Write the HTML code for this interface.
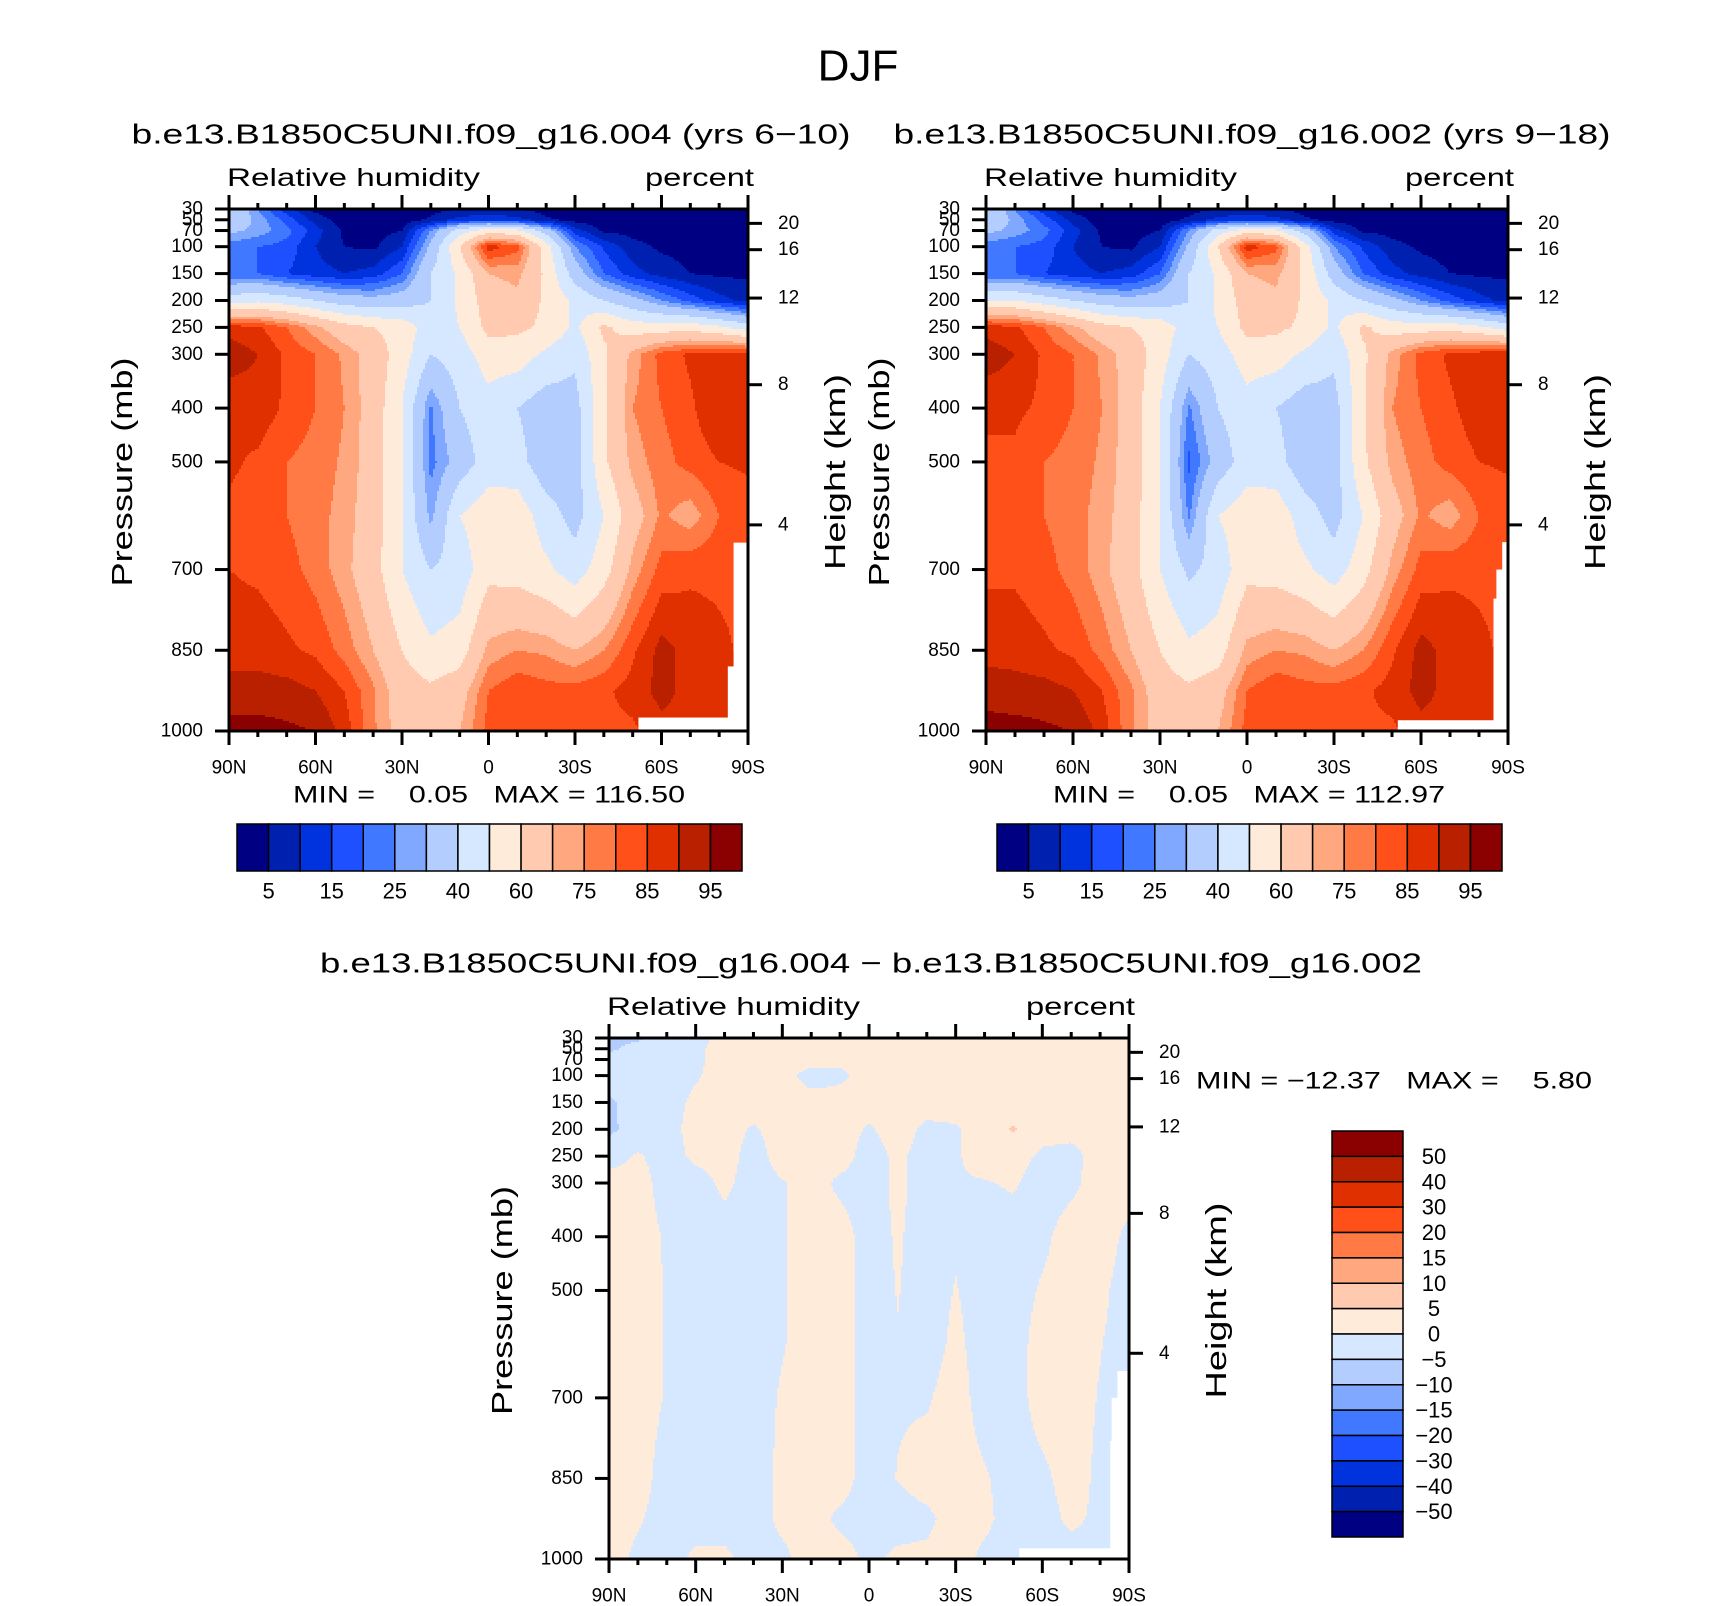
<!DOCTYPE html>
<html><head><meta charset="utf-8">
<style>
html,body{margin:0;padding:0;background:#fff;}
svg{display:block;font-family:"Liberation Sans",sans-serif;}
</style></head>
<body>
<svg id="fig" width="1710" height="1606" viewBox="0 0 1710 1606" xmlns="http://www.w3.org/2000/svg">
<rect x="0" y="0" width="1710" height="1606" fill="#fff"/>
<text x="858" y="66" font-size="44" text-anchor="middle" dominant-baseline="central" font-weight="300">DJF</text>
</svg>
<script>
// ---- data ----
const lats = [90,80,70,60,50,40,30,20,10,0,-10,-20,-30,-40,-50,-60,-70,-80,-90];
const levels = [30,50,70,100,150,200,250,300,400,500,600,700,850,925,1000];
const rh1 = [
 [40,25,12,3,2,2,2,3,5,5,5,3,2,2,2,2,2,2,2],
 [38,28,18,8,2,2,2,6,12,14,12,6,3,2,2,2,2,2,2],
 [32,28,22,12,4,3,5,25,45,55,52,35,12,4,3,2,2,2,2],
 [22,20,18,10,5,4,10,32,60,88,82,55,25,14,7,4,3,3,3],
 [20,20,15,12,10,12,20,40,52,70,72,58,35,20,12,8,5,4,4],
 [45,48,45,40,35,33,35,40,52,65,68,58,48,40,33,25,18,12,8],
 [88,86,80,72,64,60,56,45,50,63,62,58,48,62,55,55,56,52,45],
 [93,90,84,80,74,66,55,40,45,55,55,48,42,58,72,82,86,88,88],
 [86,88,84,80,75,66,50,24,40,46,40,34,36,58,75,80,84,90,88],
 [86,84,80,78,74,66,50,23,34,45,44,33,35,58,72,78,82,85,86],
 [84,82,80,77,73,65,50,28,50,56,56,45,36,50,66,76,72,80,82],
 [85,84,82,78,72,64,50,40,44,57,56,52,45,56,72,82,84,84,84],
 [88,88,86,84,78,70,60,52,55,72,75,74,70,75,84,92,88,86,84],
 [92,92,92,90,85,76,65,62,66,80,84,82,82,84,87,92,88,86,86],
 [97,97,96,95,88,76,66,60,70,82,83,84,84,84,84,88,88,88,88]
];
const rh2 = [
 [40,25,12,3,2,2,2,3,5,5,5,3,2,2,2,2,2,2,2],
 [38,28,18,8,2,2,2,6,12,14,12,6,3,2,2,2,2,2,2],
 [32,28,22,12,4,3,5,25,45,55,52,35,12,4,3,2,2,2,2],
 [22,20,18,10,5,4,10,32,60,88,82,55,25,14,7,4,3,3,3],
 [20,20,15,12,10,12,20,40,52,70,72,58,35,20,12,8,5,4,4],
 [50,50,45,40,35,33,35,40,52,65,68,58,48,40,33,25,18,12,8],
 [88,86,80,72,64,60,56,45,50,63,62,58,48,62,55,55,56,52,45],
 [93,90,84,80,74,66,55,40,45,55,55,48,42,58,72,82,86,88,90],
 [86,86,84,80,75,66,50,24,40,46,40,34,36,58,75,80,84,88,88],
 [84,84,80,78,74,66,50,19,34,45,44,33,35,58,72,78,82,85,86],
 [82,82,80,77,73,65,50,24,50,56,56,45,36,50,66,76,72,80,82],
 [84,84,82,78,72,64,50,38,44,57,56,52,45,56,72,82,84,84,84],
 [88,88,86,84,78,70,60,52,55,72,75,74,70,75,84,92,88,86,84],
 [93,92,92,90,85,76,65,62,66,80,84,82,82,84,87,92,88,86,86],
 [97,97,96,95,88,76,66,60,70,82,83,84,84,84,84,88,88,88,88]
];
const diff = [
 [-7,-6,-2,-2,2,2,2,2,2,2,2,2,2,2,2,2,2,2,2],
 [-6,-3,-2,-1,2,2,2,2,2,2,2,2,2,2,2,2,2,2,2],
 [-3,-2,-2,-1,2,2,2,2,1,2,2,2,2,2,2,2,2,2,2],
 [-2,-2,-2,-0.5,2,2,2,-2,-1,2,2,2,2,2,2,2,2,2,2],
 [-6,-2,-2,1,2,2,2,2,2,2,2,2,2,2,2,2,2,2,2],
 [-6,-3,-2,2,2,-0.5,2,2,2,-0.5,2,-1,-0.5,2,5.5,2,2,2,2],
 [-2,0.5,-2,1,2,-2,2,2,2,-2,1,-2,-0.5,2,2,-1,-2,3,2],
 [2,2,-2,-2,1,-2,-0.3,2,-1,-2,1,-2,-0.5,-0.3,0.5,-2,-1,2,2],
 [2,2,-0.5,-2,-2,-2,-0.3,2,2,-2,0.5,-2,-0.5,-2,-2,-1,2,2,-1],
 [2,2,-0.3,-2,-2,-2,-0.3,2,2,-2,0.2,-2,0.2,-2,-2,0.5,2,1,-2],
 [2,2,-0.3,-2,-2,-2,-0.3,2,2,-2,-0.3,-2,1,-2,-2,2,2,0.2,-2],
 [2,2,-0.3,-2,-2,-2,0.5,2,2,-2,-0.5,-0.5,2,-2,-2,2,2,-0.3,-2],
 [2,2,-2,-2,-2,-2,1,2,2,-2,0.2,2,2,0.5,-2,-1,2,-1,-2],
 [2,0.5,-2,-2,-2,-2,1,2,-1,-2,-2,-1,2,1,-2,-2,1,-1,-2],
 [2,-1,-2,1,1,-2,-1,2,2,-1,1,1,2,-1,-2,-2,-2,-2,-2]
];
const rhLevels = [5,10,15,20,25,30,40,50,60,70,75,80,85,90,95];
const rhLabels = ["5","15","25","40","60","75","85","95"];
const diffLevels = [-50,-40,-30,-20,-15,-10,-5,0,5,10,15,20,30,40,50];
const diffLabels = ["50","40","30","20","15","10","5","0","\u22125","\u221210","\u221215","\u221220","\u221230","\u221240","\u221250"];
const palette = ["#000083","#0020B0","#0033DD","#1E50FF","#4078FF","#80A8FF","#B3CDFF","#D6E8FF","#FFEBD9","#FFCAB0","#FFA880","#FF7A45","#FF5019","#E03000","#B82000","#8B0000"];
const pLabels = [30,50,70,100,150,200,250,300,400,500,700,850,1000];
const hTicks = [20,16,12,8,4];
const hTickP = [56.7,105.6,195.5,356.5,617];
const latLabels = ["90N","60N","30N","0","30S","60S","90S"];
const latMajor = [90,60,30,0,-30,-60,-90];
const missing1 = [[-52,-90,975,1000],[-85,-90,650,1000],[-83,-90,880,1000]];
const missing2 = [[-52,-90,980,1000],[-88,-90,649,1000],[-86,-90,700,1000],[-85,-90,754,1000]];
const missing3 = [[-52,-90,980,1000],[-86,-90,650,1000],[-84,-90,700,1000],[-83.5,-90,780,1000]];

const NS="http://www.w3.org/2000/svg";
const svg=document.getElementById('fig');
function mk(tag,attrs,parent){const e=document.createElementNS(NS,tag);for(const k in attrs)e.setAttribute(k,attrs[k]);(parent||svg).appendChild(e);return e;}

function sample(grid,lat,p){
  let fi=(90-lat)/10; if(fi<0)fi=0; if(fi>18)fi=18;
  let i0=Math.min(17,Math.floor(fi)); let tx=fi-i0;
  let k=0; while(k<levels.length-2 && p>levels[k+1]) k++;
  let ty=(p-levels[k])/(levels[k+1]-levels[k]); if(ty<0)ty=0; if(ty>1)ty=1;
  const a=grid[k][i0],b=grid[k][i0+1],c=grid[k+1][i0],d=grid[k+1][i0+1];
  return (a*(1-tx)+b*tx)*(1-ty)+(c*(1-tx)+d*tx)*ty;
}
function classOf(v,lv){let i=0;while(i<lv.length && v>=lv[i])i++;return i;}

function panel(o){
  const g=mk('g',{});
  
  
  const X=lat=>o.x+(90-lat)/180*o.w;
  const Y=p=>o.y+(p-30)/970*o.h;
  const field=mk('g',{'shape-rendering':'crispEdges'},g);
  
  
  const step=2;
  function flush(x0,x1,yy,hh,c){
    const r=mk('rect',{x:o.x+x0,y:yy,width:x1-x0,height:hh,fill:palette[c]},field);
    
    
  }
  for(let py=0;py<o.h;py+=step){
    const p=30+(py+step/2)/o.h*970;
    let runStart=0,runC=-1;
    const hh=Math.min(step,o.h-py);
    for(let px=0;px<o.w;px+=step){
      const lat=90-Math.min(px+step/2,o.w)/o.w*180;
      const c=classOf(sample(o.grid,lat,p),o.lv);
      if(c!==runC){
        if(runC>=0) flush(runStart,px,o.y+py,hh,runC);
        runStart=px;runC=c;
      }
    }
    if(runC>=0) flush(runStart,o.w,o.y+py,hh,runC);
  }
  o.missing.forEach(m=>{
    const r=mk('rect',{x:X(m[0]),y:Y(m[2]),width:X(m[1])-X(m[0]),height:Y(m[3])-Y(m[2])+1,fill:'#fff'},g);
    
    
  });
  const fr=mk('rect',{x:o.x,y:o.y,width:o.w,height:o.h,fill:'none',stroke:'#000','stroke-width':3},g);
  
  
  for(let lat=90;lat>=-90;lat-=10){
    const major=lat%30===0;const L=major?14:6;const x=X(lat);
    const t1=mk('line',{x1:x,y1:o.y+o.h,x2:x,y2:o.y+o.h+L,stroke:'#000','stroke-width':3},g);
    
    
    const t2=mk('line',{x1:x,y1:o.y,x2:x,y2:o.y-L,stroke:'#000','stroke-width':3},g);
    
    
  }
  latMajor.forEach((lat,i)=>{
    const t=mk('text',{x:X(lat),y:o.y+o.h+37,'font-size':19,'text-anchor':'middle','dominant-baseline':'central'},g);
    t.textContent=latLabels[i];
    
    
  });
  pLabels.forEach(p=>{
    const y=Y(p);
    const l=mk('line',{x1:o.x-14,y1:y,x2:o.x,y2:y,stroke:'#000','stroke-width':3},g);
    
    
    const t=mk('text',{x:o.x-26,y:y,'font-size':19,'text-anchor':'end','dominant-baseline':'central'},g);
    t.textContent=p;
    
    
  });
  hTicks.forEach((h,i)=>{
    const y=Y(hTickP[i]);
    const l=mk('line',{x1:o.x+o.w,y1:y,x2:o.x+o.w+14,y2:y,stroke:'#000','stroke-width':3},g);
    
    
    const t=mk('text',{x:o.x+o.w+30,y:y,'font-size':19,'text-anchor':'start','dominant-baseline':'central'},g);
    t.textContent=h;
    
    
  });
  const cy=o.y+o.h*0.5+2;
  const yt=mk('text',{x:0,y:0,'font-size':29,'text-anchor':'middle','dominant-baseline':'central',transform:`translate(${o.x-106},${cy}) rotate(-90)`,textLength:229,lengthAdjust:'spacingAndGlyphs'},g);
  yt.textContent='Pressure  (mb)';
  
  
  const ht=mk('text',{x:0,y:0,'font-size':29,'text-anchor':'middle','dominant-baseline':'central',transform:`translate(${o.x+o.w+88},${cy}) rotate(-90)`,textLength:196,lengthAdjust:'spacingAndGlyphs'},g);
  ht.textContent='Height  (km)';
  
  
  const rl=mk('text',{x:o.x-2,y:o.y-31,'font-size':25,'dominant-baseline':'central',textLength:253,lengthAdjust:'spacingAndGlyphs'},g);
  rl.textContent='Relative  humidity';
  
  
  const pc=mk('text',{x:o.x+o.w+6,y:o.y-31,'font-size':25,'text-anchor':'end','dominant-baseline':'central',textLength:109,lengthAdjust:'spacingAndGlyphs'},g);
  pc.textContent='percent';
  
  
  const tt=mk('text',{x:o.tx,y:o.ty,'font-size':28,'text-anchor':'middle','dominant-baseline':'central',textLength:o.tl,lengthAdjust:'spacingAndGlyphs'},g);
  tt.textContent=o.title;
  
  
  const mm=mk('text',{x:o.mx,y:o.my,'font-size':24,'text-anchor':o.manchor,'dominant-baseline':'central','xml:space':'preserve',style:'white-space:pre',textLength:o.ml,lengthAdjust:'spacingAndGlyphs'},g);
  mm.textContent=o.minmax;
  
  
}
function hbar(x0,name){
  const g=mk('g',{});
  
  
  const w=505,y=824,h=47,bw=w/16;
  palette.forEach((c,i)=>{
    const r=mk('rect',{x:x0+i*bw,y:y,width:bw,height:h,fill:c,stroke:'#000','stroke-width':1.5},g);
    
    
  });
  rhLabels.forEach((lab,j)=>{
    const t=mk('text',{x:x0+(2*j+1)*bw,y:891,'font-size':22,'text-anchor':'middle','dominant-baseline':'central'},g);
    t.textContent=lab;
    
    
  });
}
function vbar(){
  const g=mk('g',{});
  
  
  const x=1332,y=1131,w=71,h=406,bh=h/16;
  palette.slice().reverse().forEach((c,i)=>{
    const r=mk('rect',{x:x,y:y+i*bh,width:w,height:bh,fill:c,stroke:'#000','stroke-width':1.5},g);
    
    
  });
  diffLabels.forEach((lab,i)=>{
    const t=mk('text',{x:1434,y:y+(i+1)*bh,'font-size':22,'text-anchor':'middle','dominant-baseline':'central'},g);
    t.textContent=lab;
    
    
  });
}
panel({name:'panel-case-004',grid:rh1,lv:rhLevels,missing:missing1,x:229,y:209,w:519,h:522,
  title:'b.e13.B1850C5UNI.f09_g16.004 (yrs 6\u221210)',tx:491,ty:134,tl:719,
  minmax:'MIN =    0.05   MAX = 116.50',mx:489,my:795,manchor:'middle',ml:392});
panel({name:'panel-case-002',grid:rh2,lv:rhLevels,missing:missing2,x:986,y:209,w:522,h:522,
  title:'b.e13.B1850C5UNI.f09_g16.002 (yrs 9\u221218)',tx:1252,ty:134,tl:717,
  minmax:'MIN =    0.05   MAX = 112.97',mx:1249,my:795,manchor:'middle',ml:392});
panel({name:'panel-difference',grid:diff,lv:diffLevels,missing:missing3,x:609,y:1038,w:520,h:521,
  title:'b.e13.B1850C5UNI.f09_g16.004 \u2212 b.e13.B1850C5UNI.f09_g16.002',tx:871,ty:963,tl:1102,
  minmax:'MIN = \u221212.37   MAX =    5.80',mx:1196,my:1081,manchor:'start',ml:396});
hbar(237,'colorbar-case-004');
hbar(997,'colorbar-case-002');
vbar();
</script>
</body></html>
